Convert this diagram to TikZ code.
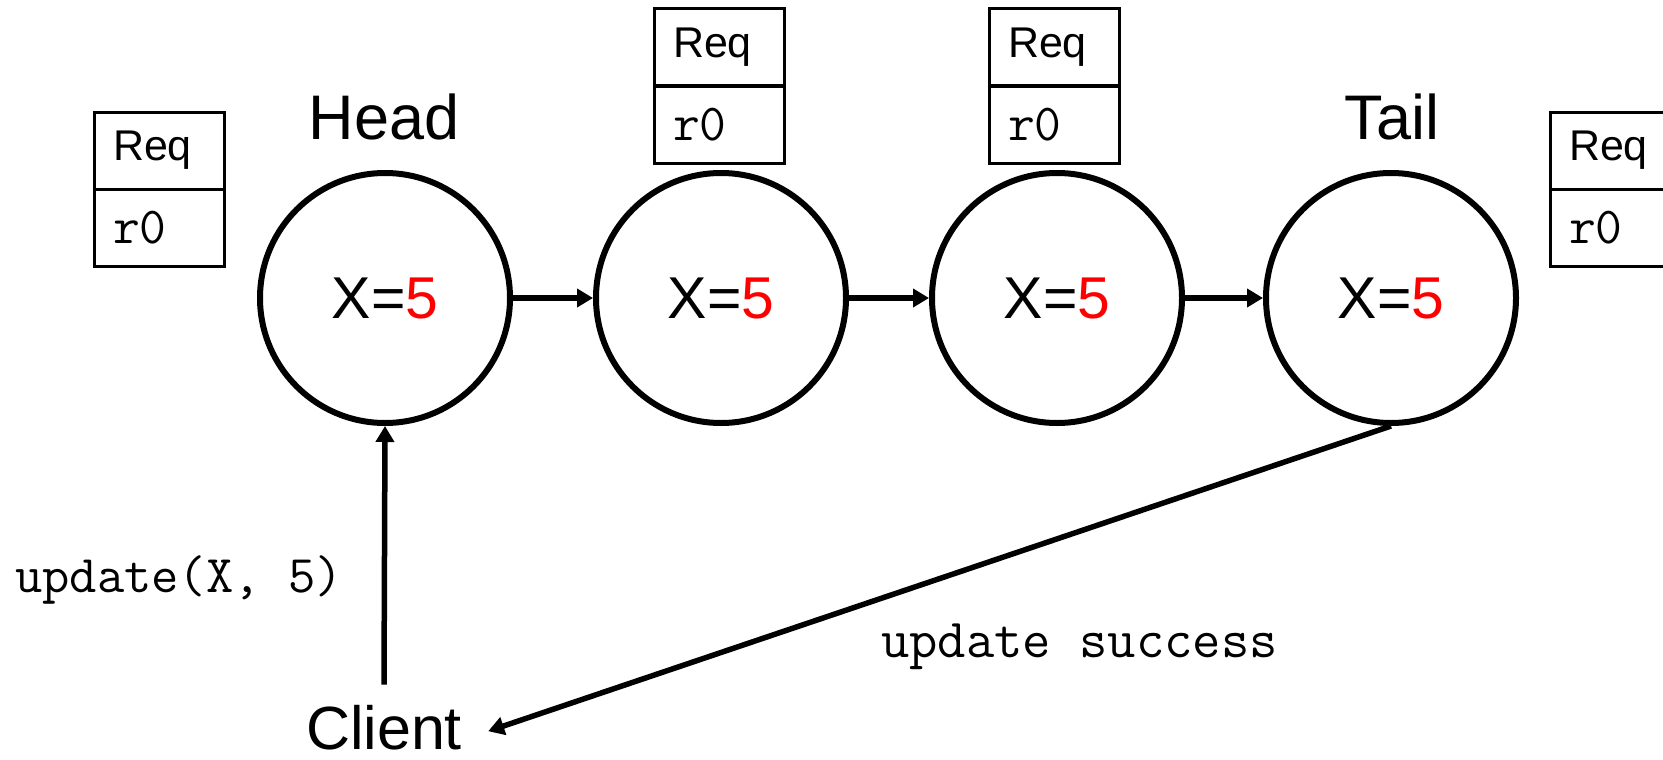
\documentclass[tikz,border=0pt]{standalone}
\usepackage{fontspec}
\setmainfont{Liberation Sans}
\usetikzlibrary{arrows.meta}
\newcommand\myfs[1]{\fontsize{#1}{#1}\selectfont}
\definecolor{valred}{RGB}{255,0,0}
\begin{document}
\begin{tikzpicture}[x=1pt,y=-1pt,
  srv/.style={circle, draw, line width=6pt, minimum size=250pt, inner sep=0pt, font=\myfs{59}},
  lbl/.style={font=\myfs{63}, inner sep=0pt, anchor=base},
  cell/.style={draw, line width=3pt, minimum width=130pt, minimum height=77pt,
    text width=92pt, inner xsep=19pt, inner ysep=0pt, align=left},
  celltop/.style={cell, font=\myfs{43}},
  cellbot/.style={cell, font=\ttfamily\myfs{52}},
  conn/.style={line width=5.5pt, -{Triangle[length=16pt,width=18pt]}},
  mono/.style={font=\ttfamily\myfs{53}, inner sep=0pt, anchor=base west}]
\useasboundingbox (0,0) rectangle (1663,760);
% servers
\node[srv] (head) at (385,298) {X=\textcolor{valred}{5}};
\node[srv] (s2) at (721,298) {X=\textcolor{valred}{5}};
\node[srv] (s3) at (1057,298) {X=\textcolor{valred}{5}};
\node[srv] (tail) at (1391,298) {X=\textcolor{valred}{5}};
% labels
\node[lbl] (headlbl) at (384,139) {Head};
\node[lbl] (taillbl) at (1392,139) {Tail};
\node[font=\myfs{61}, inner xsep=26pt, inner ysep=1pt, anchor=base] (client) at (384,749) {Client};
% request boxes
\node[celltop] (r1a) at (159,150.5) {Req};
\node[cellbot] (r1b) at (159,228) {r0};
\node[celltop] (r2a) at (719,47) {Req};
\node[cellbot] (r2b) at (719,125) {r0};
\node[celltop] (r3a) at (1054,47) {Req};
\node[cellbot] (r3b) at (1054,125) {r0};
\node[celltop] (r4a) at (1615,150.5) {Req};
\node[cellbot] (r4b) at (1615,228) {r0};
% connectors
\draw[conn] (head) -- (s2);
\draw[conn] (s2) -- (s3);
\draw[conn] (s3) -- (tail);
\draw[conn] ([yshift=19pt]client.north) -- (head.south);
\draw[conn] (tail.south) -- ([yshift=-4pt]client.east);
% edge labels
\node[mono] (updlbl) at (15,592) {update(X, 5)};
\node[mono, font=\ttfamily\myfs{55}] (succlbl) at (881,657) {update success};
\end{tikzpicture}
\end{document}
